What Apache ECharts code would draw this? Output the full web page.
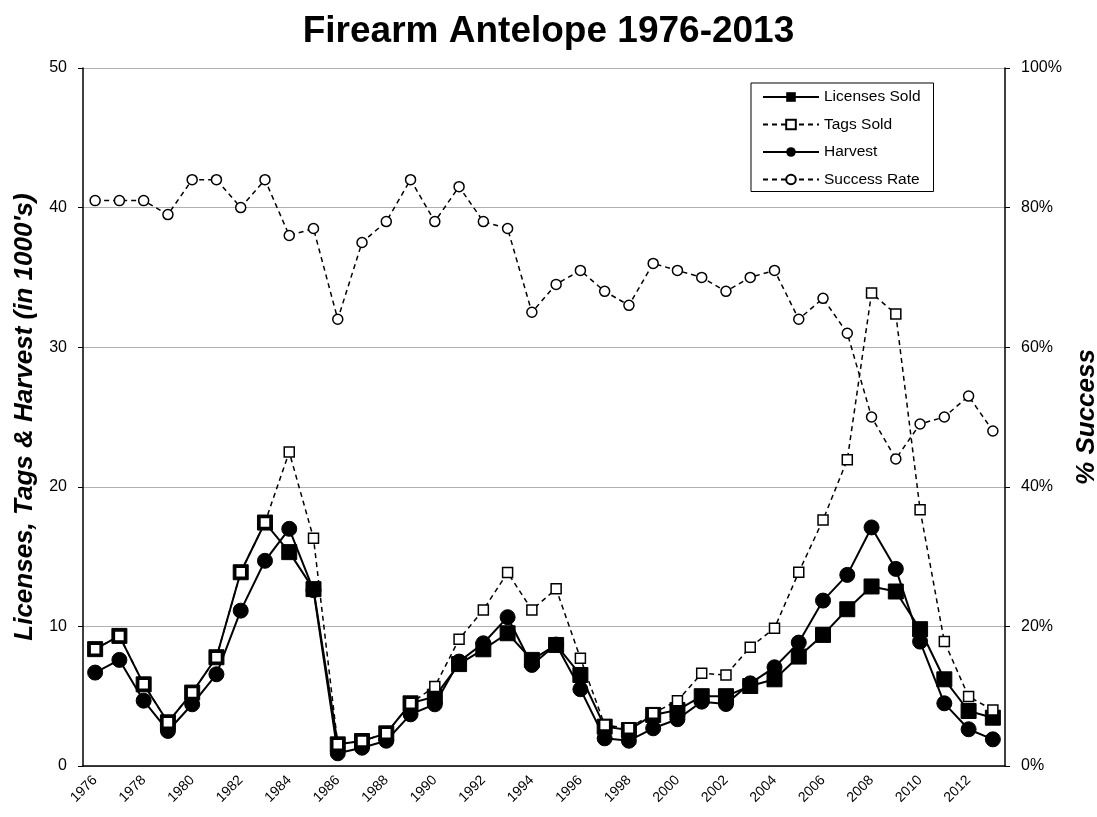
<!DOCTYPE html>
<html>
<head>
<meta charset="utf-8">
<title>Firearm Antelope 1976-2013</title>
<script src="https://cdn.jsdelivr.net/npm/echarts@6/dist/echarts.min.js"></script>
<style>
  html, body { margin: 0; padding: 0; background: #fff; }
  #chart { width: 1097px; height: 817px; }
</style>
</head>
<body>
<div id="chart"></div>
<script>
var years = [];
for (var y = 1976; y <= 2013; y++) years.push(String(y));

// values in 1000's
var licenses = [8.37, 9.32, 5.85, 3.13, 5.26, 7.79, 13.88, 17.44, 15.32, 12.67,
  1.55, 1.79, 2.34, 4.49, 4.97, 7.3, 8.36, 9.51, 7.6, 8.67,
  6.52, 2.82, 2.58, 3.66, 4.01, 5.0, 5.0, 5.73, 6.21, 7.84,
  9.39, 11.23, 12.86, 12.5, 9.8, 6.21, 3.94, 3.46];
var tags = [8.37, 9.32, 5.85, 3.13, 5.26, 7.79, 13.88, 17.44, 22.49, 16.32,
  1.55, 1.79, 2.34, 4.49, 5.69, 9.08, 11.18, 13.86, 11.18, 12.69,
  7.72, 2.94, 2.7, 3.78, 4.68, 6.64, 6.52, 8.51, 9.87, 13.88,
  17.63, 21.94, 33.88, 32.38, 18.35, 8.91, 4.97, 4.01];
var harvest = [6.69, 7.6, 4.68, 2.51, 4.42, 6.57, 11.13, 14.7, 16.99, 12.6,
  0.91, 1.31, 1.81, 3.7, 4.42, 7.48, 8.79, 10.66, 7.24, 8.7,
  5.5, 1.98, 1.81, 2.7, 3.35, 4.61, 4.44, 5.92, 7.07, 8.84,
  11.85, 13.69, 17.09, 14.12, 8.91, 4.49, 2.63, 1.91];
// percent
var success = [81, 81, 81, 79, 84, 84, 80, 84, 76, 77,
  64, 75, 78, 84, 78, 83, 78, 77, 65, 69,
  71, 68, 66, 72, 71, 70, 68, 70, 71, 64,
  67, 62, 50, 44, 49, 50, 53, 48];

var font = 'Arial, "Liberation Sans", sans-serif';
var chart = echarts.init(document.getElementById('chart'));

var option = {
  backgroundColor: '#fff',
  animation: false,
  textStyle: { fontFamily: font, color: '#000' },
  title: {
    text: 'Firearm Antelope 1976-2013',
    left: 'center',
    top: 8,
    textStyle: { fontFamily: font, fontSize: 37, fontWeight: 'bold', color: '#000' }
  },
  legend: {
    orient: 'vertical',
    left: 751,
    top: 83,
    padding: [6, 13, 4, 11],
    borderColor: '#000',
    borderWidth: 1,
    backgroundColor: '#fff',
    itemWidth: 56,
    itemHeight: 12,
    itemGap: 11.5,
    textStyle: { fontFamily: font, fontSize: 15.5, lineHeight: 15, color: '#000' },
    data: ['Licenses Sold', 'Tags Sold', 'Harvest', 'Success Rate']
  },
  grid: { left: 83, right: 92, top: 68, bottom: 51, outerBoundsMode: 'none' },
  xAxis: {
    type: 'category',
    data: years,
    boundaryGap: true,
    axisLine: { lineStyle: { color: '#000', width: 1.5 } },
    axisTick: { interval: 0, length: 5, lineStyle: { color: '#000' } },
    axisLabel: { interval: 1, rotate: 45, fontSize: 14, color: '#000', fontFamily: font, margin: 12 }
  },
  yAxis: [{
    type: 'value',
    min: 0, max: 50, interval: 10,
    name: "Licenses, Tags & Harvest (in 1000's)",
    nameLocation: 'middle',
    nameRotate: 90,
    nameGap: 44,
    nameTextStyle: { fontFamily: font, fontSize: 26, fontWeight: 'bold', fontStyle: 'italic', color: '#000' },
    axisLine: { show: true, lineStyle: { color: '#000', width: 1.5 } },
    axisTick: { show: true, length: 5, lineStyle: { color: '#000' } },
    axisLabel: { fontSize: 16, color: '#000', fontFamily: font, margin: 16 },
    splitLine: { lineStyle: { color: '#b0b0b0', width: 1.2 } }
  }, {
    type: 'value',
    min: 0, max: 100, interval: 20,
    position: 'right',
    name: '% Success',
    nameLocation: 'middle',
    nameRotate: 90,
    nameGap: 69,
    nameTextStyle: { fontFamily: font, fontSize: 26, fontWeight: 'bold', fontStyle: 'italic', color: '#000' },
    axisLine: { show: true, lineStyle: { color: '#000', width: 1.5 } },
    axisTick: { show: true, length: 5, lineStyle: { color: '#000' } },
    axisLabel: { fontSize: 16, color: '#000', fontFamily: font, margin: 16, formatter: '{value}%' },
    splitLine: { show: false }
  }],
  series: [{
    name: 'Licenses Sold',
    type: 'line',
    data: licenses,
    z: 2,
    symbol: 'rect',
    symbolSize: 15,
    lineStyle: { color: '#000', width: 2 },
    itemStyle: { color: '#000', borderColor: '#000' }
  }, {
    name: 'Harvest',
    type: 'line',
    data: harvest,
    z: 3,
    symbol: 'circle',
    symbolSize: 15,
    lineStyle: { color: '#000', width: 2 },
    itemStyle: { color: '#000', borderColor: '#000' }
  }, {
    name: 'Tags Sold',
    type: 'line',
    data: tags,
    z: 4,
    symbol: 'rect',
    symbolSize: 10,
    showAllSymbol: true,
    lineStyle: { color: '#000', width: 1.5, type: [5, 4] },
    itemStyle: { color: '#fff', borderColor: '#000', borderWidth: 1.5 }
  }, {
    name: 'Success Rate',
    type: 'line',
    yAxisIndex: 1,
    data: success,
    z: 5,
    symbol: 'circle',
    symbolSize: 10,
    showAllSymbol: true,
    lineStyle: { color: '#000', width: 1.5, type: [5, 4] },
    itemStyle: { color: '#fff', borderColor: '#000', borderWidth: 1.5 }
  }]
};

chart.setOption(option);
</script>
</body>
</html>
